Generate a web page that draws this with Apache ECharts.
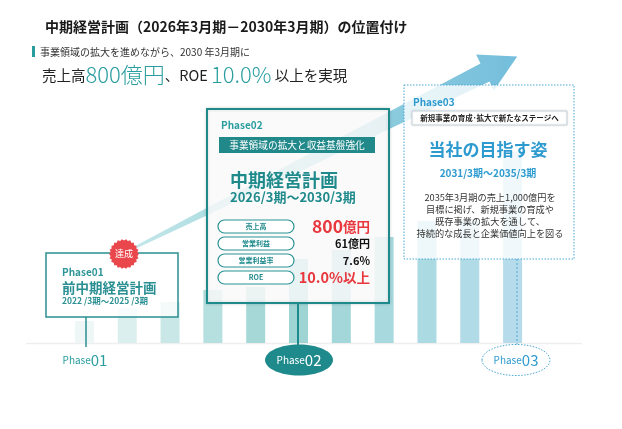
<!DOCTYPE html>
<html><head><meta charset="utf-8">
<script src="https://cdn.jsdelivr.net/npm/echarts@6/dist/echarts.min.js"></script>
<style>html,body{margin:0;padding:0;background:#fff}#c{width:622px;height:429px}</style>
</head><body><div id="c"></div>
<script>
const categories = ['1','2','3','4','5','6','7','8','9','10','11'];
const barValues = [22, 35, 41, 53, 56, 84, 93, 106, 122, 122, 191];
const barColors = ['#eef6f6','#dcefef','#c9e7e7','#b6dfdf','#a6d8d8','#9fd4d5','#a3d7d9','#a8d9de','#acdae3','#b2dbe8','#b6dbeb'];
const kpiLabels = ['売上高','営業利益','営業利益率','ROE'];
const kpiValues = ['800億円','61億円','7.6%','10.0%以上'];

const F = "'Noto Sans CJK JP', 'Noto Sans', sans-serif";
const TEAL = '#1f8a8c', TEAL2 = '#2a9d9f', BLUE = '#2e9bd0', BLUEL = '#4aa9d6', RED = '#e8383d';

function txt(x, y, text, o) {
  o = o || {};
  return {type:'text', x:x, y:y, z:o.z || 20, style:{text:text, fill:o.fill||'#222', fontFamily:F,
    fontSize:o.size||10, fontWeight:o.weight||'normal', textAlign:o.align||'left', textVerticalAlign:'middle',
    lineHeight:o.lh, rich:o.rich}};
}
function star(cx, cy, ro, ri, n) {
  const p = [];
  for (let i = 0; i < n*2; i++) {
    const r = i % 2 ? ri : ro, a = Math.PI * i / n;
    p.push([cx + r*Math.cos(a), cy + r*Math.sin(a)]);
  }
  return p;
}

const g = [];
// title & headline
g.push(txt(45, 27, '中期経営計画（2026年3月期－2030年3月期）の位置付け', {size:14, weight:'bold', fill:'#1a1a1a'}));
g.push({type:'rect', z:20, shape:{x:32, y:46, width:3, height:11}, style:{fill:TEAL2}});
g.push(txt(40, 52, '事業領域の拡大を進めながら、2030 年3月期に', {size:10, fill:'#333'}));
g.push(txt(42, 75, '{a|売上高}{b|800億円}{a|、ROE }{b|10.0%}{a| 以上を実現}', {rich:{
  a:{fontSize:14.5, fill:'#222', fontFamily:F},
  b:{fontSize:22, fill:TEAL2, fontFamily:F, fontWeight:300}}}));

// arrow
g.push({type:'polygon', z:1, shape:{points:[[118.7,254.7],[208.5,207.1],[480.5,63.6],[476.1,54.6],[517.2,56.4],[493.9,90.4],[489.5,81.4],[203.5,216.9],[117.3,257.3]]},
  style:{fill:{type:'linear', x:0, y:0, x2:1, y2:0, colorStops:[{offset:0,color:'rgba(175,222,226,0.7)'},{offset:0.3,color:'#a9dbe0'},{offset:1,color:'#74bedc'}]}}});

// baseline
g.push({type:'line', z:1, shape:{x1:26, y1:343.5, x2:582, y2:343.5}, style:{stroke:'#efefef', lineWidth:1.5}});

// Phase01 box
g.push({type:'rect', z:10, shape:{x:46, y:253, width:132, height:64}, style:{fill:'rgba(255,255,255,0.8)', stroke:'#2a8f92', lineWidth:1.5}});
g.push({type:'line', z:10, shape:{x1:86, y1:317, x2:86, y2:347}, style:{stroke:'#2a8f92', lineWidth:1.5}});
g.push({type:'polygon', z:15, shape:{points:star(124, 254, 15, 13.5, 22)}, style:{fill:'#e9474c'}});
g.push(txt(124, 254, '達成', {size:9, fill:'#fff', align:'center', z:16}));
g.push(txt(62, 272, 'Phase01', {size:10, weight:'bold', fill:'#2f9597'}));
g.push(txt(62, 288, '前中期経営計画', {size:13.5, weight:'bold', fill:'#2a8f92'}));
g.push(txt(62, 301, '2022 /3期～2025 /3期', {size:8.5, weight:'bold', fill:'#2a8f92'}));
g.push(txt(85, 360, '{s|Phase}{l|01}', {align:'center', rich:{s:{fontSize:10, fill:TEAL2, fontFamily:F}, l:{fontSize:15, fill:TEAL2, fontFamily:F}}}));

// Phase02 box
g.push({type:'rect', z:10, shape:{x:207, y:109, width:182, height:194}, style:{fill:'rgba(255,255,255,0.82)', stroke:TEAL, lineWidth:2, shadowBlur:3, shadowColor:'rgba(0,0,0,0.15)'}});
g.push({type:'line', z:10, shape:{x1:298, y1:303, x2:298, y2:347}, style:{stroke:TEAL, lineWidth:2}});
g.push(txt(221, 125, 'Phase02', {size:10, weight:'bold', fill:TEAL2}));
g.push({type:'rect', z:12, shape:{x:219, y:137, width:156, height:16}, style:{fill:'#22898b'}});
g.push(txt(297, 145, '事業領域の拡大と収益基盤強化', {size:9.7, fill:'#fff', align:'center'}));
g.push(txt(230, 180, '中期経営計画', {size:18, weight:'bold', fill:TEAL}));
g.push(txt(230, 197, '2026/3期～2030/3期', {size:13, weight:'bold', fill:TEAL}));
const pillY = [226.5, 243.5, 260.5, 277.5];
kpiLabels.forEach((l, i) => {
  g.push({type:'rect', z:12, shape:{x:218, y:pillY[i]-6.5, width:76, height:13, r:6.5}, style:{fill:'#fff', stroke:'#2a9396', lineWidth:1.2}});
  g.push(txt(256, pillY[i], l, {size:7, weight:'bold', fill:TEAL, align:'center'}));
});
g.push(txt(370, pillY[0], '{n|800}{u|億円}', {align:'right', rich:{n:{fontSize:17.5, fontWeight:'bold', fill:RED, fontFamily:F}, u:{fontSize:13.5, fontWeight:'bold', fill:RED, fontFamily:F}}}));
g.push(txt(370, pillY[1], kpiValues[1], {size:11, weight:'bold', fill:'#111', align:'right'}));
g.push(txt(370, pillY[2], kpiValues[2], {size:11, weight:'bold', fill:'#111', align:'right'}));
g.push(txt(370, pillY[3], '{n|10.0%}{u|以上}', {align:'right', rich:{n:{fontSize:14.5, fontWeight:'bold', fill:RED, fontFamily:F}, u:{fontSize:13.5, fontWeight:'bold', fill:RED, fontFamily:F}}}));
g.push({type:'ellipse', z:12, shape:{cx:299, cy:360, rx:34, ry:15.5}, style:{fill:TEAL}});
g.push(txt(299, 360, '{s|Phase}{l|02}', {align:'center', rich:{s:{fontSize:10, fill:'#fff', fontFamily:F}, l:{fontSize:15, fill:'#fff', fontFamily:F}}}));

// Phase03 box
g.push({type:'rect', z:10, shape:{x:404, y:85, width:170, height:174}, style:{fill:'rgba(255,255,255,0.8)', stroke:BLUEL, lineWidth:1, lineDash:[1.5,1.5]}});
g.push({type:'line', z:10, shape:{x1:517, y1:259, x2:517, y2:345}, style:{stroke:BLUEL, lineWidth:1, lineDash:[2,2]}});
g.push(txt(413, 102, 'Phase03', {size:10, weight:'bold', fill:BLUE}));
g.push({type:'rect', z:12, shape:{x:412, y:111, width:155, height:14}, style:{fill:'#fff', stroke:'#c9d6dc', lineWidth:1, shadowBlur:2, shadowColor:'rgba(0,0,0,0.12)'}});
g.push(txt(489.5, 118, '新規事業の育成･拡大で新たなステージへ', {size:7.5, weight:'bold', fill:'#222', align:'center'}));
g.push(txt(488, 150, '当社の目指す姿', {size:17, weight:'bold', fill:BLUE, align:'center'}));
g.push(txt(488, 173, '2031/3期～2035/3期', {size:10, weight:'bold', fill:BLUE, align:'center'}));
g.push(txt(490, 215.5, '2035年3月期の売上1,000億円を\n目標に掲げ、新規事業の育成や\n既存事業の拡大を通して、\n持続的な成長と企業価値向上を図る', {size:9.2, fill:'#333', align:'center', lh:11.7}));
g.push({type:'ellipse', z:12, shape:{cx:516, cy:360, rx:34, ry:15.5}, style:{fill:'#fff', stroke:BLUEL, lineWidth:1, lineDash:[1.5,1.5]}});
g.push(txt(516, 360, '{s|Phase}{l|03}', {align:'center', rich:{s:{fontSize:10, fill:BLUE, fontFamily:F}, l:{fontSize:15, fill:BLUE, fontFamily:F}}}));

const chart = echarts.init(document.getElementById('c'));
chart.setOption({
  animation:false,
  backgroundColor:'#fff',
  grid:{left:63, right:88, top:143, bottom:86},
  xAxis:{type:'category', data:categories, show:false},
  yAxis:{type:'value', min:0, max:200, show:false},
  series:[{type:'bar', z:2, data:barValues, barWidth:19, itemStyle:{color:p => barColors[p.dataIndex]}}],
  graphic:g
});
</script></body></html>
